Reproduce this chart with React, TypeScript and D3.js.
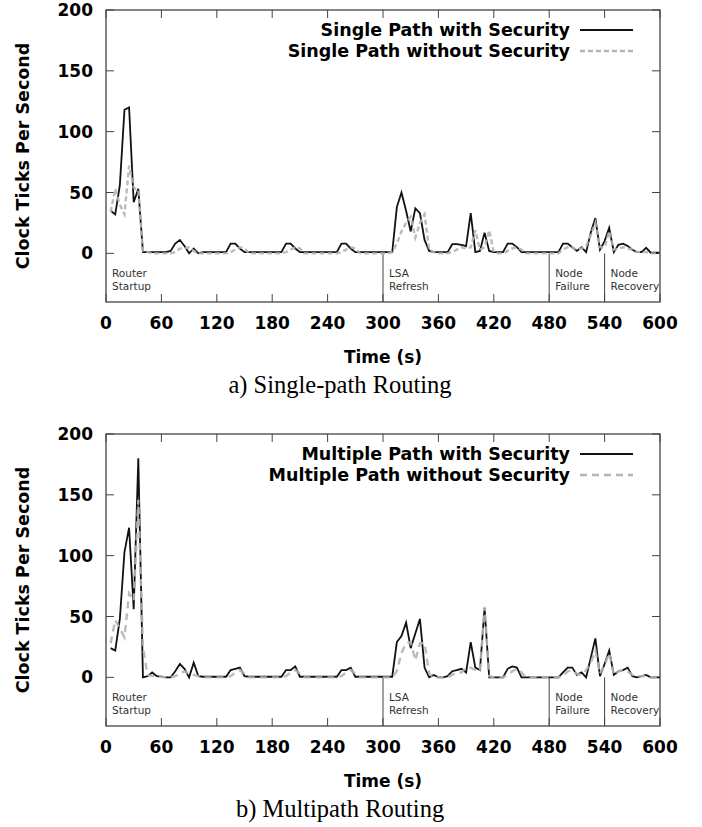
import * as d3 from 'd3'

// sample times (s)
const TIMES: number[] = d3.range(5, 601, 5)

// top panel: single path routing
const singleSec: number[] = [
  35, 32, 56, 118, 120, 42, 53, 1, 1, 1, 1, 1,
  1, 2, 8, 11, 6, 0, 4, 0, 1, 1, 1, 1,
  1, 1, 8, 8, 4, 1, 1, 1, 1, 1, 1, 1,
  1, 1, 8, 8, 4, 1, 1, 1, 1, 1, 1, 1,
  1, 1, 8, 8, 4, 1, 1, 1, 1, 1, 1, 1,
  1, 1, 38, 50, 35, 18, 37, 33, 11, 2, 1, 1,
  1, 1, 7.5, 7.5, 7, 6, 33, 1, 2, 17, 2, 1,
  1, 1, 8, 8, 5, 1, 1, 1, 1, 1, 1, 1,
  1, 1, 8, 8, 5, 2, 5, 1, 17, 29, 3, 10,
  21, 1, 7, 8, 6, 3, 1, 1, 4.5, 0.5, 0.5, 0.5,
]
const singleNoSec: number[] = [
  34, 53, 40, 32, 72, 54, 52, 2, 1, 0, 0, 0,
  0, 0, 1, 4, 4, 5, 2, 0, 0, 0, 0, 0,
  0, 0, 1, 3, 5, 4, 0, 0, 0, 0, 0, 0,
  0, 0, 1, 3, 5, 4, 0, 0, 0, 0, 0, 0,
  0, 0, 1, 3, 5, 4, 0, 0, 0, 0, 0, 0,
  0, 1, 8, 18, 25, 30, 13, 25, 32, 3, 1, 0,
  0, 0, 1, 3, 5, 4, 5, 19, 3, 5, 19, 1,
  0, 0, 2, 4, 5, 3, 0, 0, 0, 0, 0, 0,
  0, 0, 3, 5, 5, 3, 4, 6, 15, 25, 5, 5,
  18, 3, 4, 5, 4, 3, 1, 1, 1, 0, 0, 0,
]

// bottom panel: multipath routing
const multiSec: number[] = [
  24, 22, 48, 103, 123, 56, 180, 0, 1, 4, 1, 0.5,
  0, 0, 5, 11, 7, 0, 12, 1, 0.5, 0.5, 0.5, 0.5,
  0.5, 0.5, 6, 7, 8, 1, 0.5, 0.5, 0.5, 0.5, 0.5, 0.5,
  0.5, 0.5, 6, 6, 9, 0.5, 0.5, 0.5, 0.5, 0.5, 0.5, 0.5,
  0.5, 0.5, 6, 6, 8, 0.5, 0.5, 0.5, 0.5, 0.5, 0.5, 0.5,
  0.5, 0.5, 29, 34, 45, 24, 36, 48, 8, 0, 2, 0,
  0, 1, 5, 6, 7, 4, 29, 8, 6, 57, 0, 0,
  0, 0, 7, 9, 8, 0, 0, 0, 0, 0, 0, 0,
  0, 0, 4, 8, 8, 2, 4, 0, 16, 32, 1, 11,
  22, 2, 5, 6, 8, 1, 0, 1, 2, 0, 0, 0,
]
const multiNoSec: number[] = [
  28, 47, 40, 33, 69, 63, 146, 25, 2, 1, 1, 0.5,
  0, 0, 1, 3, 5, 3, 2, 1, 0, 0, 0, 0,
  0, 0, 1, 4, 6, 3, 0, 0, 0, 0, 0, 0,
  0, 0, 1, 4, 6, 3, 0, 0, 0, 0, 0, 0,
  0, 0, 1, 4, 6, 3, 0, 0, 0, 0, 0, 0,
  0, 0, 5, 20, 28, 29, 14, 28, 28, 3, 0, 0,
  0, 0, 2, 4, 4, 8, 8, 6, 5, 58, 1, 0,
  0, 0, 2, 5, 7, 4, 0, 0, 0, 0, 0, 0,
  0, 0, 1, 5, 6, 3, 2, 6, 12, 22, 3, 10,
  20, 2, 5, 6, 5, 2, 1, 1, 1, 0, 0, 0,
]

const X_TICKS = [0, 60, 120, 180, 240, 300, 360, 420, 480, 540, 600]
const Y_TICKS = [0, 50, 100, 150, 200]
const EVENTS: { t: number; lines: string[] }[] = [
  { t: 0, lines: ['Router', 'Startup'] },
  { t: 300, lines: ['LSA', 'Refresh'] },
  { t: 480, lines: ['Node', 'Failure'] },
  { t: 540, lines: ['Node', 'Recovery'] },
]

const FONT = 'DejaVu Sans, sans-serif'
const L = 106, R = 660, PH = 292
const FRAME = '#444'

type PanelProps = {
  top: number
  sec: number[]
  noSec: number[]
  labels: [string, string]
  dash: string
  caption: string
}

function Panel({ top, sec, noSec, labels, dash, caption }: PanelProps) {
  const x = d3.scaleLinear().domain([0, 600]).range([L, R])
  const y = d3.scaleLinear().domain([-40, 200]).range([top + PH, top])
  const line = d3.line<number>().x((_, i) => x(TIMES[i])).y(d => y(d))
  const bottom = top + PH

  return (
    <g>
      {/* y ticks, left and right */}
      {Y_TICKS.map(v => (
        <g key={'y' + v}>
          <line x1={L} x2={L + 8} y1={y(v)} y2={y(v)} stroke={FRAME} strokeWidth={1} />
          <line x1={R} x2={R - 8} y1={y(v)} y2={y(v)} stroke={FRAME} strokeWidth={1} />
          <text x={93} y={y(v)} dy="0.36em" textAnchor="end" fontFamily={FONT}
            fontWeight="bold" fontSize={17}>{v}</text>
        </g>
      ))}
      {/* x ticks, top and bottom */}
      {X_TICKS.map(t => (
        <g key={'x' + t}>
          <line x1={x(t)} x2={x(t)} y1={top} y2={top + 8} stroke={FRAME} strokeWidth={1} />
          <line x1={x(t)} x2={x(t)} y1={bottom} y2={bottom - 8} stroke={FRAME} strokeWidth={1} />
          <text x={x(t)} y={bottom + 21} dy="0.36em" textAnchor="middle" fontFamily={FONT}
            fontWeight="bold" fontSize={17}>{t}</text>
        </g>
      ))}

      {/* event separators and labels */}
      {EVENTS.map(ev => (
        <g key={'e' + ev.t}>
          {ev.t > 0 && (
            <line x1={x(ev.t)} x2={x(ev.t)} y1={y(0)} y2={bottom} stroke={FRAME} strokeWidth={1} />
          )}
          {ev.lines.map((s, i) => (
            <text key={i} x={x(ev.t) + 6} y={y(0) + 20 + i * 13} dy="0.35em" fontFamily={FONT}
              fontSize={10.5} fill="#333">{s}</text>
          ))}
        </g>
      ))}

      {/* series */}
      <path d={line(sec) || ''} fill="none" stroke="#111" strokeWidth={1.8} />
      <path d={line(noSec) || ''} fill="none" stroke="#b4b4b4" strokeWidth={2.4}
        strokeDasharray={dash} opacity={0.9} />

      {/* frame */}
      <rect x={L} y={top} width={R - L} height={PH} fill="none" stroke={FRAME} strokeWidth={1.3} />

      {/* legend */}
      <text x={570} y={top + 20} dy="0.36em" textAnchor="end" fontFamily={FONT}
        fontWeight="bold" fontSize={17.5}>{labels[0]}</text>
      <line x1={580} x2={633} y1={top + 20} y2={top + 20} stroke="#111" strokeWidth={1.8} />
      <text x={570} y={top + 41} dy="0.36em" textAnchor="end" fontFamily={FONT}
        fontWeight="bold" fontSize={17.5}>{labels[1]}</text>
      <line x1={580} x2={633} y1={top + 41} y2={top + 41} stroke="#b4b4b4" strokeWidth={2.4}
        strokeDasharray={dash} />

      {/* axis titles */}
      <text transform={`translate(23,${top + PH / 2}) rotate(-90)`} dy="0.36em" textAnchor="middle"
        fontFamily={FONT} fontWeight="bold" fontSize={17.5}>Clock Ticks Per Second</text>
      <text x={(L + R) / 2} y={bottom + 55} dy="0.36em" textAnchor="middle" fontFamily={FONT}
        fontWeight="bold" fontSize={17}>Time (s)</text>
      <text x={340} y={bottom + 82} dy="0.36em" textAnchor="middle"
        fontFamily="Liberation Serif, Times New Roman, serif" fontSize={24.5}>{caption}</text>
    </g>
  )
}

export default function App() {
  return (
    <svg width={702} height={827} style={{ position: 'absolute', left: 0, top: 0, background: '#fff' }}>
      <Panel top={10} sec={singleSec} noSec={singleNoSec} dash="5,3"
        labels={['Single Path with Security', 'Single Path without Security']}
        caption="a) Single-path Routing" />
      <Panel top={434} sec={multiSec} noSec={multiNoSec} dash="7,5"
        labels={['Multiple Path with Security', 'Multiple Path without Security']}
        caption="b) Multipath Routing" />
    </svg>
  )
}
